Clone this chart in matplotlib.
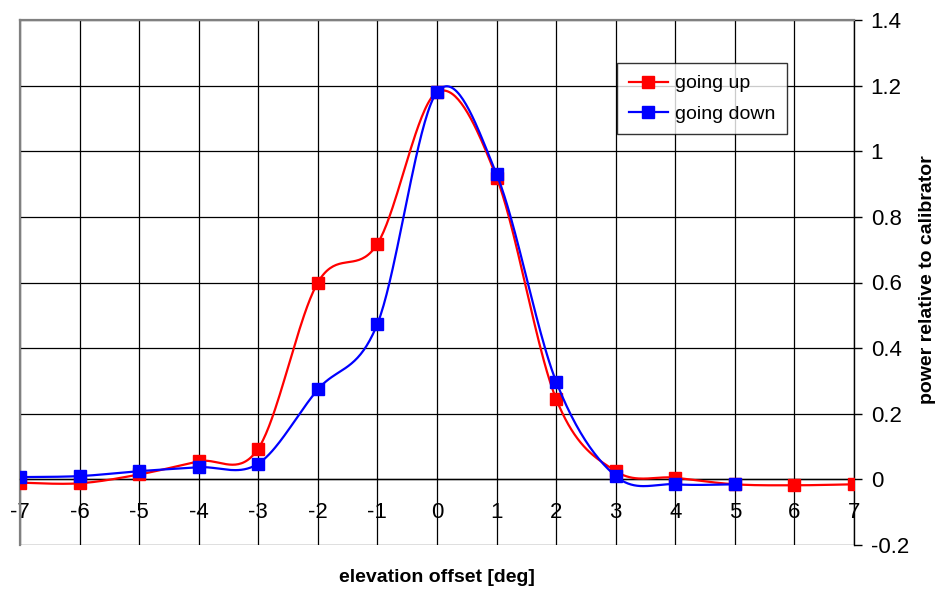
import numpy as np
import matplotlib
matplotlib.use('Agg')
import matplotlib.pyplot as plt
from matplotlib.lines import Line2D
from matplotlib.ticker import FuncFormatter

plt.rcParams['font.family'] = ['Liberation Sans', 'DejaVu Sans']
plt.rcParams['axes.unicode_minus'] = False

# ---- data ----
offsets_up = [-7, -6, -5, -4, -3, -2, -1, 0, 1, 2, 3, 4, 5, 6, 7]
power_up = [-0.010, -0.012, 0.015, 0.055, 0.094, 0.600, 0.718, 1.180, 0.920,
            0.245, 0.025, 0.005, -0.015, -0.018, -0.015]
offsets_down = [-7, -6, -5, -4, -3, -2, -1, 0, 1, 2, 3, 4, 5]
power_down = [0.007, 0.010, 0.025, 0.037, 0.048, 0.274, 0.474, 1.180, 0.930,
              0.298, 0.010, -0.015, -0.015]
x_ticks = list(range(-7, 8))
y_ticks = [-0.2, 0, 0.2, 0.4, 0.6, 0.8, 1.0, 1.2, 1.4]


def smooth(x, y, n=40):
    """Excel-style smoothed line (Catmull-Rom as cubic Bezier)."""
    P = np.column_stack([x, y]).astype(float)
    m = len(P)
    out = []
    t = np.linspace(0, 1, n)[:, None]
    for i in range(m - 1):
        p0 = P[i]
        p3 = P[i + 1]
        pm = P[i - 1] if i > 0 else P[i]
        pp = P[i + 2] if i + 2 < m else P[i + 1]
        c1 = p0 + (p3 - pm) / 6.0
        c2 = p3 - (pp - p0) / 6.0
        seg = ((1 - t) ** 3) * p0 + 3 * ((1 - t) ** 2) * t * c1 + 3 * (1 - t) * t ** 2 * c2 + t ** 3 * p3
        out.append(seg if i == 0 else seg[1:])
    out = np.vstack(out)
    return out[:, 0], out[:, 1]


fig = plt.figure(figsize=(9.36, 5.89), dpi=100)
ax = fig.add_axes([20 / 936, 1 - 545 / 589, 834 / 936, 525 / 589])

red = '#ff0000'
blue = '#0000ff'

sx, sy = smooth(offsets_up, power_up)
ax.plot(sx, sy, color=red, lw=1.6, zorder=4)
ax.plot(offsets_up, power_up, 's', color=red, ms=8, zorder=5)

sx, sy = smooth(offsets_down, power_down)
ax.plot(sx, sy, color=blue, lw=1.6, zorder=6)
ax.plot(offsets_down, power_down, 's', color=blue, ms=8, zorder=7)

ax.set_xlim(-7, 7)
ax.set_ylim(-0.2, 1.4)
ax.set_xticks(x_ticks)
ax.set_yticks(y_ticks)
ax.xaxis.set_major_formatter(FuncFormatter(lambda v, p: '%d' % round(v)))
ax.yaxis.set_major_formatter(FuncFormatter(lambda v, p: '%g' % round(v, 2)))

ax.grid(True, color='#000000', lw=0.9)
ax.set_axisbelow(True)

# spines
ax.spines['bottom'].set_position(('data', 0))
ax.spines['bottom'].set_color('#000000')
ax.spines['bottom'].set_linewidth(1.0)
for s in ['top', 'left']:
    ax.spines[s].set_color('#808080')
    ax.spines[s].set_linewidth(1.6)
ax.spines['right'].set_color('#000000')
ax.spines['right'].set_linewidth(1.0)

ax.yaxis.tick_right()
ax.tick_params(axis='y', which='both', length=6, width=1.0, direction='out',
               labelsize=16, pad=6, left=False, right=True)
ax.tick_params(axis='x', which='both', length=0, labelsize=16, pad=16)

handles = [Line2D([0], [0], color=red, lw=1.6, marker='s', ms=8),
           Line2D([0], [0], color=blue, lw=1.6, marker='s', ms=8)]
leg = ax.legend(handles, ['going up', 'going down'], loc='upper left',
                bbox_to_anchor=(0.716, 0.918), frameon=True, fancybox=False,
                fontsize=14, handlelength=2.0, handletextpad=0.35,
                borderpad=0.6, labelspacing=0.65, borderaxespad=0)
leg.get_frame().set_edgecolor('#000000')
leg.get_frame().set_linewidth(1.0)
leg.set_zorder(10)

fig.text(437 / 936, 1 - 578 / 589, 'elevation offset [deg]', ha='center',
         va='center', fontsize=14, fontweight='bold')
fig.text(928 / 936, 1 - 280 / 589, 'power relative to calibrator', ha='center',
         va='center', rotation=90, fontsize=14, fontweight='bold')

fig.savefig('out.png', dpi=100)
